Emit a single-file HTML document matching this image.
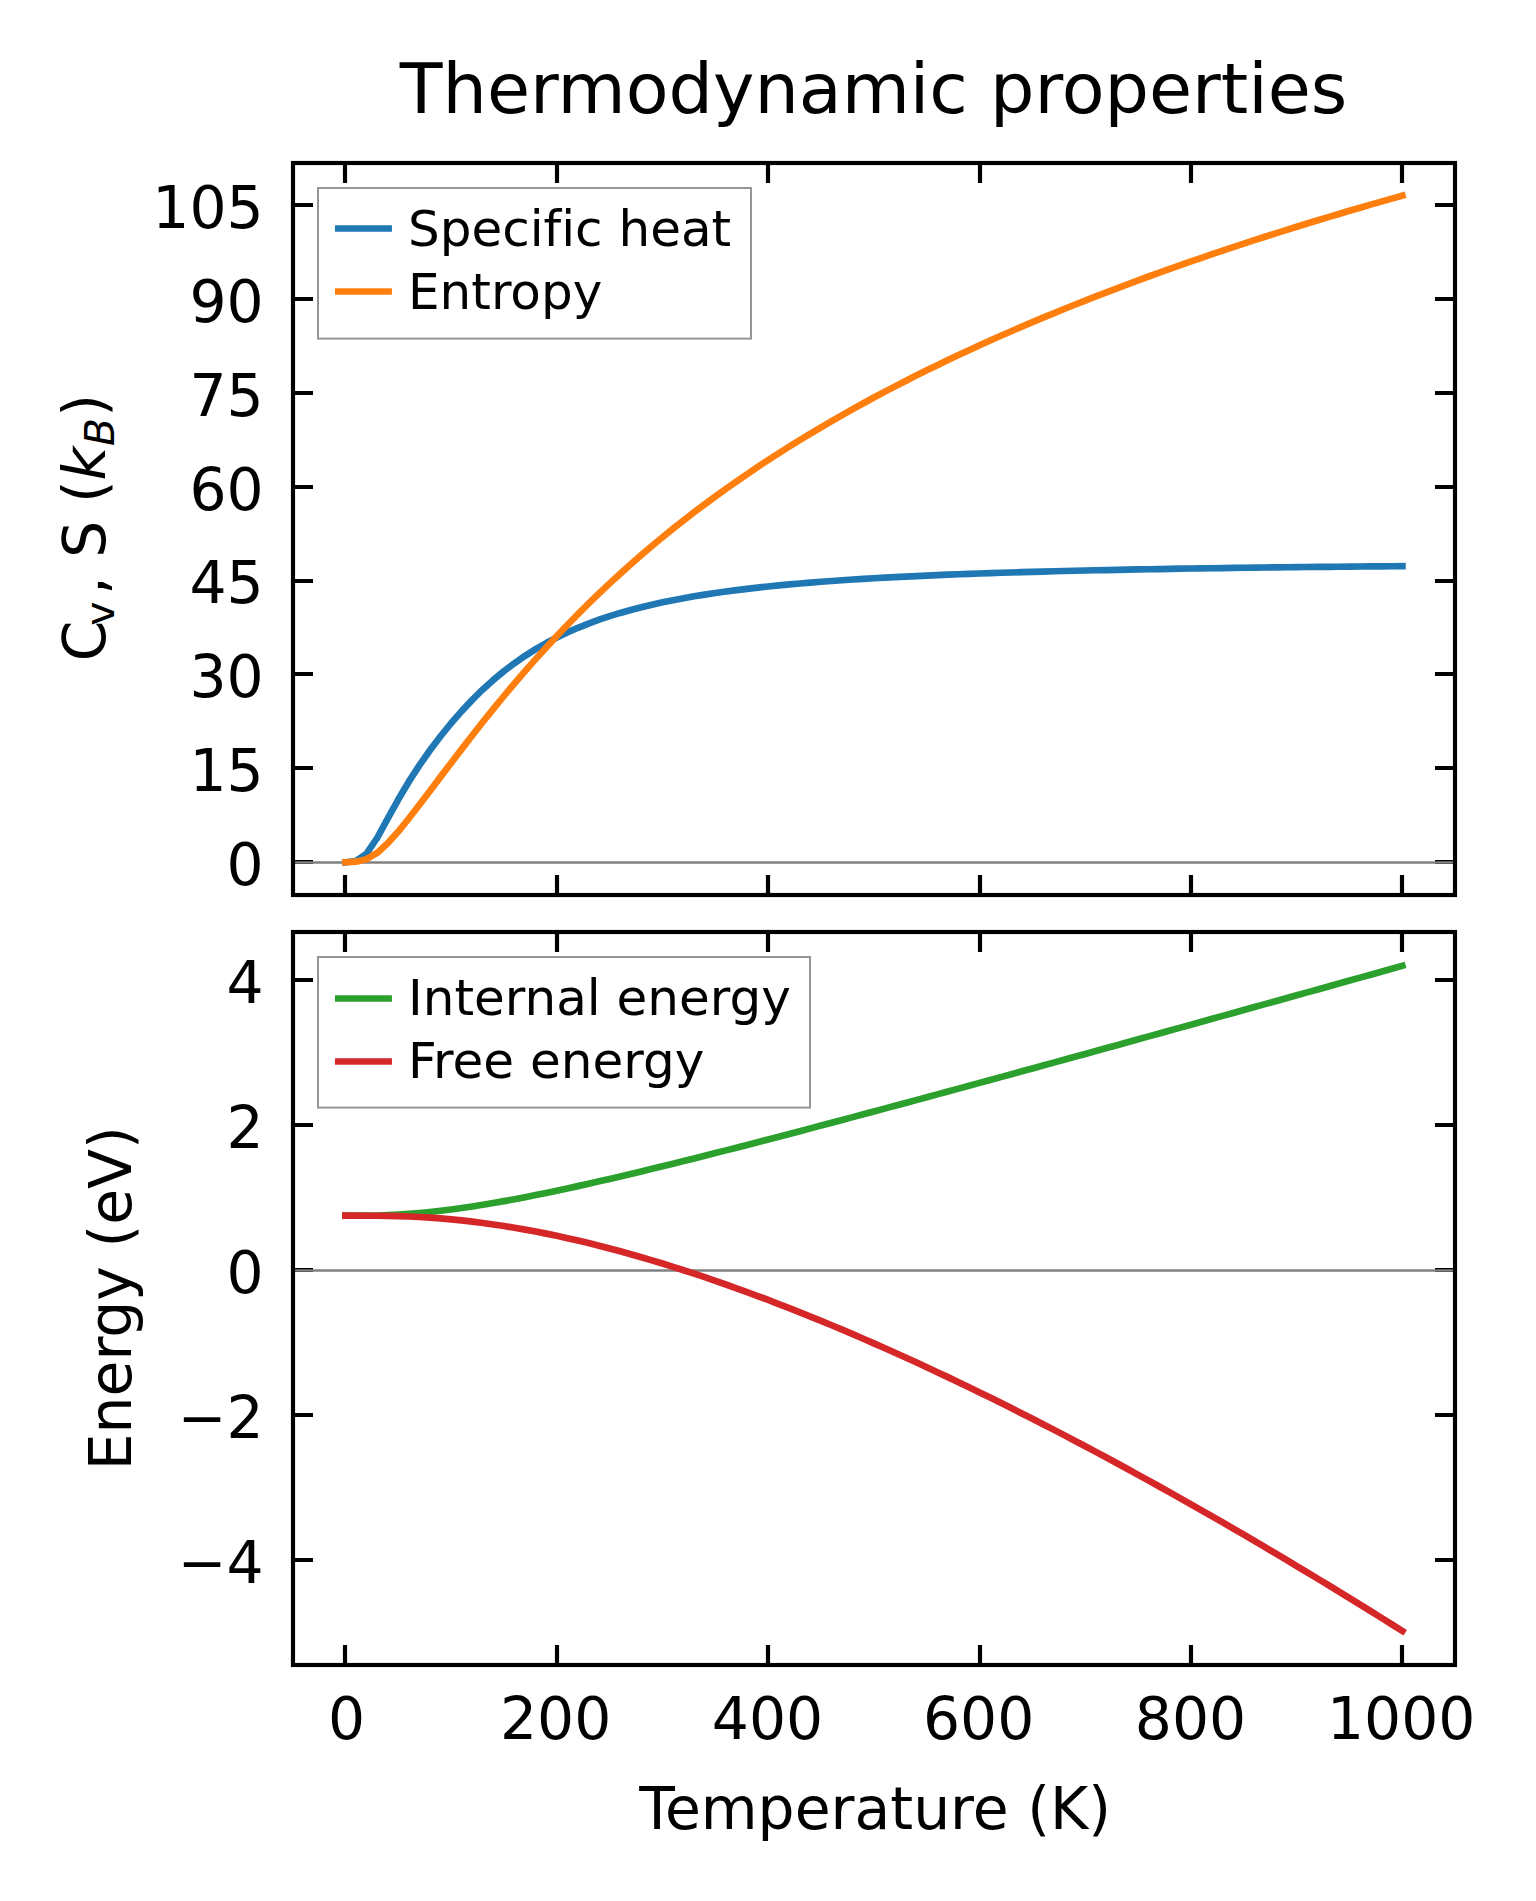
<!DOCTYPE html>
<html lang="en"><head><meta charset="utf-8"><title>Thermodynamic properties</title>
<style>html,body{margin:0;padding:0;background:#fff}svg{display:block}text{font-family:"DejaVu Sans","Liberation Sans",sans-serif;fill:#000;font-variant-ligatures:none;font-feature-settings:"liga" 0,"clig" 0}.i{font-style:italic}</style></head><body>
<svg width="1536" height="1901" viewBox="0 0 1536 1901">
<rect width="1536" height="1901" fill="#fff"/>
<path d="M345.0 163.0v20.0M345.0 895.0v-20.0M557.0 163.0v20.0M557.0 895.0v-20.0M768.0 163.0v20.0M768.0 895.0v-20.0M980.0 163.0v20.0M980.0 895.0v-20.0M1191.0 163.0v20.0M1191.0 895.0v-20.0M1402.0 163.0v20.0M1402.0 895.0v-20.0M293.0 862.0h20.0M1455.0 862.0h-20.0M293.0 768.0h20.0M1455.0 768.0h-20.0M293.0 674.0h20.0M1455.0 674.0h-20.0M293.0 581.0h20.0M1455.0 581.0h-20.0M293.0 487.0h20.0M1455.0 487.0h-20.0M293.0 393.0h20.0M1455.0 393.0h-20.0M293.0 299.0h20.0M1455.0 299.0h-20.0M293.0 205.0h20.0M1455.0 205.0h-20.0" stroke="#000" stroke-width="4.17" fill="none"/>
<path d="M293.0 862.50H1455.0" stroke="#808080" stroke-width="2.5"/>
<polyline points="345.40,862.25 355.97,861.01 366.54,853.73 377.11,838.00 387.68,818.72 398.25,799.52 408.82,781.68 419.39,765.33 429.96,750.26 440.53,736.27 451.10,723.24 461.67,711.12 472.24,699.88 482.81,689.49 493.38,679.93 503.95,671.16 514.52,663.14 525.09,655.81 535.66,649.13 546.23,643.04 556.80,637.48 567.37,632.42 577.94,627.79 588.51,623.57 599.08,619.70 609.65,616.17 620.22,612.92 630.79,609.94 641.36,607.19 651.93,604.66 662.50,602.33 673.07,600.17 683.64,598.17 694.21,596.32 704.78,594.60 715.35,593.00 725.92,591.51 736.49,590.12 747.06,588.83 757.63,587.61 768.20,586.48 778.77,585.41 789.34,584.42 799.91,583.48 810.48,582.59 821.05,581.76 831.62,580.98 842.19,580.24 852.76,579.54 863.33,578.88 873.90,578.25 884.47,577.66 895.04,577.10 905.61,576.57 916.18,576.06 926.75,575.58 937.32,575.12 947.89,574.68 958.46,574.27 969.03,573.87 979.60,573.50 990.17,573.14 1000.74,572.79 1011.31,572.46 1021.88,572.15 1032.45,571.85 1043.02,571.56 1053.59,571.28 1064.16,571.02 1074.73,570.76 1085.30,570.52 1095.87,570.28 1106.44,570.06 1117.01,569.84 1127.58,569.63 1138.15,569.43 1148.72,569.24 1159.29,569.05 1169.86,568.87 1180.43,568.70 1191.00,568.54 1201.57,568.38 1212.14,568.22 1222.71,568.07 1233.28,567.93 1243.85,567.79 1254.42,567.65 1264.99,567.52 1275.56,567.39 1286.13,567.27 1296.70,567.15 1307.27,567.04 1317.84,566.93 1328.41,566.82 1338.98,566.72 1349.55,566.62 1360.12,566.52 1370.69,566.42 1381.26,566.33 1391.83,566.24 1402.40,566.15" fill="none" stroke="#1f77b4" stroke-width="6.67" stroke-linejoin="round" stroke-linecap="square"/>
<polyline points="345.40,862.25 355.97,861.69 366.54,859.13 377.11,852.92 387.68,843.33 398.25,831.53 408.82,818.50 419.39,804.83 429.96,790.89 440.53,776.88 451.10,762.93 461.67,749.10 472.24,735.47 482.81,722.05 493.38,708.90 503.95,696.01 514.52,683.42 525.09,671.13 535.66,659.13 546.23,647.45 556.80,636.06 567.37,624.97 577.94,614.17 588.51,603.65 599.08,593.41 609.65,583.44 620.22,573.72 630.79,564.25 641.36,555.03 651.93,546.03 662.50,537.26 673.07,528.70 683.64,520.35 694.21,512.19 704.78,504.23 715.35,496.45 725.92,488.84 736.49,481.40 747.06,474.13 757.63,467.01 768.20,460.04 778.77,453.22 789.34,446.54 799.91,439.99 810.48,433.57 821.05,427.28 831.62,421.10 842.19,415.05 852.76,409.10 863.33,403.26 873.90,397.53 884.47,391.90 895.04,386.37 905.61,380.93 916.18,375.59 926.75,370.33 937.32,365.16 947.89,360.08 958.46,355.07 969.03,350.15 979.60,345.30 990.17,340.52 1000.74,335.82 1011.31,331.18 1021.88,326.62 1032.45,322.12 1043.02,317.68 1053.59,313.31 1064.16,309.00 1074.73,304.74 1085.30,300.55 1095.87,296.41 1106.44,292.32 1117.01,288.29 1127.58,284.31 1138.15,280.38 1148.72,276.50 1159.29,272.67 1169.86,268.88 1180.43,265.15 1191.00,261.45 1201.57,257.80 1212.14,254.20 1222.71,250.63 1233.28,247.11 1243.85,243.62 1254.42,240.18 1264.99,236.77 1275.56,233.40 1286.13,230.07 1296.70,226.77 1307.27,223.51 1317.84,220.29 1328.41,217.09 1338.98,213.93 1349.55,210.80 1360.12,207.71 1370.69,204.64 1381.26,201.61 1391.83,198.60 1402.40,195.63" fill="none" stroke="#ff7f0e" stroke-width="6.67" stroke-linejoin="round" stroke-linecap="square"/>
<rect x="293.0" y="163.0" width="1162.0" height="732.0" fill="none" stroke="#000" stroke-width="4.17"/>
<path d="M345.0 932.0v20.0M345.0 1665.0v-20.0M557.0 932.0v20.0M557.0 1665.0v-20.0M768.0 932.0v20.0M768.0 1665.0v-20.0M980.0 932.0v20.0M980.0 1665.0v-20.0M1191.0 932.0v20.0M1191.0 1665.0v-20.0M1402.0 932.0v20.0M1402.0 1665.0v-20.0M293.0 980.0h20.0M1455.0 980.0h-20.0M293.0 1125.0h20.0M1455.0 1125.0h-20.0M293.0 1270.0h20.0M1455.0 1270.0h-20.0M293.0 1415.0h20.0M1455.0 1415.0h-20.0M293.0 1560.0h20.0M1455.0 1560.0h-20.0" stroke="#000" stroke-width="4.17" fill="none"/>
<path d="M293.0 1270.50H1455.0" stroke="#808080" stroke-width="2.5"/>
<polyline points="345.40,1215.69 355.97,1215.69 366.54,1215.65 377.11,1215.49 387.68,1215.15 398.25,1214.62 408.82,1213.90 419.39,1213.02 429.96,1211.97 440.53,1210.79 451.10,1209.46 461.67,1208.02 472.24,1206.45 482.81,1204.78 493.38,1203.01 503.95,1201.14 514.52,1199.19 525.09,1197.17 535.66,1195.08 546.23,1192.92 556.80,1190.70 567.37,1188.43 577.94,1186.12 588.51,1183.76 599.08,1181.36 609.65,1178.92 620.22,1176.44 630.79,1173.94 641.36,1171.41 651.93,1168.85 662.50,1166.27 673.07,1163.67 683.64,1161.04 694.21,1158.40 704.78,1155.73 715.35,1153.05 725.92,1150.36 736.49,1147.65 747.06,1144.93 757.63,1142.19 768.20,1139.45 778.77,1136.69 789.34,1133.92 799.91,1131.15 810.48,1128.36 821.05,1125.57 831.62,1122.76 842.19,1119.95 852.76,1117.13 863.33,1114.31 873.90,1111.48 884.47,1108.64 895.04,1105.80 905.61,1102.95 916.18,1100.10 926.75,1097.24 937.32,1094.38 947.89,1091.51 958.46,1088.64 969.03,1085.76 979.60,1082.88 990.17,1080.00 1000.74,1077.11 1011.31,1074.22 1021.88,1071.33 1032.45,1068.43 1043.02,1065.53 1053.59,1062.63 1064.16,1059.73 1074.73,1056.82 1085.30,1053.91 1095.87,1051.00 1106.44,1048.08 1117.01,1045.17 1127.58,1042.25 1138.15,1039.33 1148.72,1036.40 1159.29,1033.48 1169.86,1030.55 1180.43,1027.62 1191.00,1024.69 1201.57,1021.76 1212.14,1018.83 1222.71,1015.89 1233.28,1012.96 1243.85,1010.02 1254.42,1007.08 1264.99,1004.14 1275.56,1001.20 1286.13,998.26 1296.70,995.31 1307.27,992.37 1317.84,989.42 1328.41,986.47 1338.98,983.52 1349.55,980.57 1360.12,977.62 1370.69,974.67 1381.26,971.72 1391.83,968.77 1402.40,965.81" fill="none" stroke="#2ca02c" stroke-width="6.67" stroke-linejoin="round" stroke-linecap="square"/>
<polyline points="345.40,1215.69 355.97,1215.69 366.54,1215.71 377.11,1215.77 387.68,1215.91 398.25,1216.15 408.82,1216.52 419.39,1217.03 429.96,1217.67 440.53,1218.45 451.10,1219.37 461.67,1220.43 472.24,1221.63 482.81,1222.96 493.38,1224.43 503.95,1226.02 514.52,1227.75 525.09,1229.59 535.66,1231.56 546.23,1233.64 556.80,1235.85 567.37,1238.16 577.94,1240.58 588.51,1243.11 599.08,1245.74 609.65,1248.47 620.22,1251.30 630.79,1254.23 641.36,1257.25 651.93,1260.36 662.50,1263.56 673.07,1266.85 683.64,1270.22 694.21,1273.67 704.78,1277.20 715.35,1280.81 725.92,1284.50 736.49,1288.27 747.06,1292.10 757.63,1296.01 768.20,1299.99 778.77,1304.04 789.34,1308.15 799.91,1312.33 810.48,1316.58 821.05,1320.89 831.62,1325.26 842.19,1329.69 852.76,1334.18 863.33,1338.74 873.90,1343.34 884.47,1348.01 895.04,1352.73 905.61,1357.51 916.18,1362.34 926.75,1367.22 937.32,1372.15 947.89,1377.14 958.46,1382.18 969.03,1387.26 979.60,1392.40 990.17,1397.58 1000.74,1402.81 1011.31,1408.08 1021.88,1413.41 1032.45,1418.77 1043.02,1424.19 1053.59,1429.64 1064.16,1435.14 1074.73,1440.68 1085.30,1446.27 1095.87,1451.89 1106.44,1457.56 1117.01,1463.27 1127.58,1469.01 1138.15,1474.80 1148.72,1480.63 1159.29,1486.49 1169.86,1492.39 1180.43,1498.33 1191.00,1504.31 1201.57,1510.32 1212.14,1516.37 1222.71,1522.46 1233.28,1528.58 1243.85,1534.74 1254.42,1540.93 1264.99,1547.15 1275.56,1553.41 1286.13,1559.70 1296.70,1566.03 1307.27,1572.38 1317.84,1578.77 1328.41,1585.19 1338.98,1591.65 1349.55,1598.13 1360.12,1604.65 1370.69,1611.20 1381.26,1617.77 1391.83,1624.38 1402.40,1631.02" fill="none" stroke="#d62728" stroke-width="6.67" stroke-linejoin="round" stroke-linecap="square"/>
<rect x="293.0" y="932.0" width="1162.0" height="733.0" fill="none" stroke="#000" stroke-width="4.17"/>
<rect x="318.0" y="188.0" width="433.0" height="150.6" fill="#fff" fill-opacity="0.9" stroke="#959595" stroke-width="2"/>
<path d="M338.30 228.50h50.30" stroke="#1f77b4" stroke-width="6.67" stroke-linecap="square"/>
<text x="408.00" y="246.00" font-size="50.00">Specific heat</text>
<path d="M338.30 291.50h50.30" stroke="#ff7f0e" stroke-width="6.67" stroke-linecap="square"/>
<text x="408.00" y="308.80" font-size="50.00">Entropy</text>
<rect x="318.0" y="957.0" width="492.0" height="150.6" fill="#fff" fill-opacity="0.9" stroke="#959595" stroke-width="2"/>
<path d="M338.30 998.50h50.30" stroke="#2ca02c" stroke-width="6.67" stroke-linecap="square"/>
<text x="408.00" y="1015.00" font-size="50.00">Internal energy</text>
<path d="M338.30 1061.50h50.30" stroke="#d62728" stroke-width="6.67" stroke-linecap="square"/>
<text x="408.00" y="1077.80" font-size="50.00">Free energy</text>
<text x="873.50" y="112.90" font-size="70.00" text-anchor="middle">Thermodynamic properties</text>
<text x="263.70" y="885.00" font-size="58.33" text-anchor="end">0</text>
<text x="263.70" y="791.00" font-size="58.33" text-anchor="end">15</text>
<text x="263.70" y="697.00" font-size="58.33" text-anchor="end">30</text>
<text x="263.70" y="603.00" font-size="58.33" text-anchor="end">45</text>
<text x="263.70" y="509.50" font-size="58.33" text-anchor="end">60</text>
<text x="263.70" y="416.00" font-size="58.33" text-anchor="end">75</text>
<text x="263.70" y="322.00" font-size="58.33" text-anchor="end">90</text>
<text x="263.70" y="228.00" font-size="58.33" text-anchor="end">105</text>
<text x="263.70" y="1003.00" font-size="58.33" text-anchor="end">4</text>
<text x="263.70" y="1148.00" font-size="58.33" text-anchor="end">2</text>
<text x="263.70" y="1293.00" font-size="58.33" text-anchor="end">0</text>
<text x="263.70" y="1438.00" font-size="58.33" text-anchor="end">−2</text>
<text x="263.70" y="1583.00" font-size="58.33" text-anchor="end">−4</text>
<text x="346.50" y="1738.60" font-size="58.33" text-anchor="middle">0</text>
<text x="555.60" y="1738.60" font-size="58.33" text-anchor="middle">200</text>
<text x="767.50" y="1738.60" font-size="58.33" text-anchor="middle">400</text>
<text x="978.60" y="1738.60" font-size="58.33" text-anchor="middle">600</text>
<text x="1190.50" y="1738.60" font-size="58.33" text-anchor="middle">800</text>
<text x="1401.20" y="1738.60" font-size="58.33" text-anchor="middle">1000</text>
<text x="875.10" y="1829.00" font-size="58.33" text-anchor="middle">Temperature (K)</text>
<text transform="translate(130.90 1298.30) rotate(-90)" font-size="58.33" text-anchor="middle">Energy (eV)</text>
<text transform="translate(104.70 661.20) rotate(-90)" font-size="58.33"><tspan x="0.00" y="0.00" font-size="58.33">C</tspan><tspan x="35.40" y="9.40" font-size="40.83">v</tspan><tspan x="66.40" y="0.00" font-size="58.33">, </tspan><tspan x="103.50" y="0.00" font-size="58.33">S </tspan><tspan x="158.30" y="0.00" font-size="58.33">(</tspan><tspan x="180.60" y="0.00" font-size="58.33" class="i">k</tspan><tspan x="215.20" y="9.40" font-size="40.83" class="i">B</tspan><tspan x="244.50" y="0.00" font-size="58.33">)</tspan></text>
</svg></body></html>
